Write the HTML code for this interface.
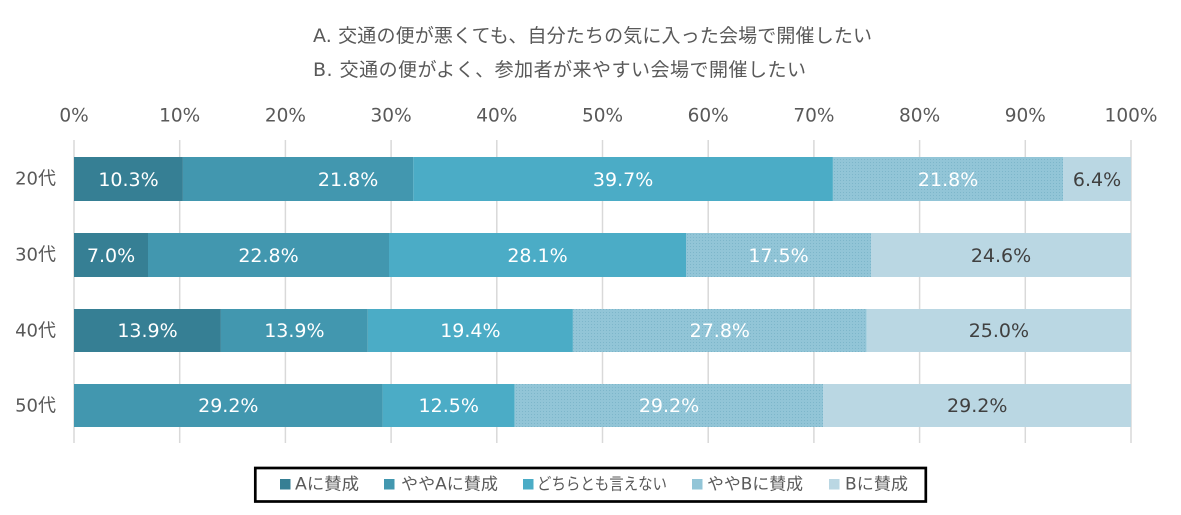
<!DOCTYPE html>
<html><head><meta charset="utf-8"><style>
html,body{margin:0;padding:0;background:#fff;}
svg{display:block;}
text{font-family:"DejaVu Sans","Noto Sans CJK JP",sans-serif;}
</style></head><body>
<svg width="1181" height="515" viewBox="0 0 1181 515" xmlns="http://www.w3.org/2000/svg">
<defs>
<pattern id="dots" width="3" height="3" patternUnits="userSpaceOnUse">
<rect width="3" height="3" fill="#92C5D7"/>
<rect x="0" y="0" width="1" height="1" fill="#7DB6CA"/>
</pattern>
</defs>
<!-- title -->
<text x="313" y="36" font-size="19" fill="#595959" dominant-baseline="central" textLength="559" lengthAdjust="spacing">A. 交通の便が悪くても、自分たちの気に入った会場で開催したい</text>
<text x="313" y="70" font-size="19" fill="#595959" dominant-baseline="central" textLength="493" lengthAdjust="spacing">B. 交通の便がよく、参加者が来やすい会場で開催したい</text>
<!-- tick labels -->
<g font-size="18.5" fill="#595959" text-anchor="middle" dominant-baseline="central">
<text x="74" y="116">0%</text>
<text x="179.7" y="116">10%</text>
<text x="285.4" y="116">20%</text>
<text x="391.1" y="116">30%</text>
<text x="496.8" y="116">40%</text>
<text x="602.5" y="116">50%</text>
<text x="708.2" y="116">60%</text>
<text x="813.9" y="116">70%</text>
<text x="919.6" y="116">80%</text>
<text x="1025.3" y="116">90%</text>
<text x="1131" y="116">100%</text>
</g>
<!-- gridlines -->
<g stroke="#D9D9D9" stroke-width="1.5">
<line x1="74" y1="140" x2="74" y2="443"/>
<line x1="179.7" y1="140" x2="179.7" y2="443"/>
<line x1="285.4" y1="140" x2="285.4" y2="443"/>
<line x1="391.1" y1="140" x2="391.1" y2="443"/>
<line x1="496.8" y1="140" x2="496.8" y2="443"/>
<line x1="602.5" y1="140" x2="602.5" y2="443"/>
<line x1="708.2" y1="140" x2="708.2" y2="443"/>
<line x1="813.9" y1="140" x2="813.9" y2="443"/>
<line x1="919.6" y1="140" x2="919.6" y2="443"/>
<line x1="1025.3" y1="140" x2="1025.3" y2="443"/>
<line x1="1131" y1="140" x2="1131" y2="443"/>
</g>
<!-- category labels -->
<g font-size="18" fill="#595959" text-anchor="end" dominant-baseline="central">
<text x="56" y="179">20代</text>
<text x="56" y="255">30代</text>
<text x="56" y="331">40代</text>
<text x="56" y="406">50代</text>
</g>
<!-- bars -->
<rect x="74" y="157" width="108.9" height="44" fill="#367F94"/>
<rect x="182.9" y="157" width="230.4" height="44" fill="#4297AF"/>
<rect x="413.3" y="157" width="419.6" height="44" fill="#4BACC6"/>
<rect x="832.9" y="157" width="230.4" height="44" fill="url(#dots)"/>
<rect x="1063.3" y="157" width="67.7" height="44" fill="#BAD7E3"/>
<rect x="74" y="233" width="74" height="44" fill="#367F94"/>
<rect x="148" y="233" width="241" height="44" fill="#4297AF"/>
<rect x="389" y="233" width="297" height="44" fill="#4BACC6"/>
<rect x="686" y="233" width="185" height="44" fill="url(#dots)"/>
<rect x="871" y="233" width="260" height="44" fill="#BAD7E3"/>
<rect x="74" y="309" width="146.9" height="43" fill="#367F94"/>
<rect x="220.9" y="309" width="146.9" height="43" fill="#4297AF"/>
<rect x="367.8" y="309" width="205.1" height="43" fill="#4BACC6"/>
<rect x="572.9" y="309" width="293.8" height="43" fill="url(#dots)"/>
<rect x="866.7" y="309" width="264.3" height="43" fill="#BAD7E3"/>
<rect x="74" y="384" width="308.6" height="43" fill="#4297AF"/>
<rect x="382.6" y="384" width="132.1" height="43" fill="#4BACC6"/>
<rect x="514.7" y="384" width="308.6" height="43" fill="url(#dots)"/>
<rect x="823.3" y="384" width="307.7" height="43" fill="#BAD7E3"/>
<!-- bar labels -->
<g font-size="19" text-anchor="middle" dominant-baseline="central" fill="#FFFFFF">
<text x="128.5" y="180">10.3%</text>
<text x="348.1" y="180">21.8%</text>
<text x="623.1" y="180">39.7%</text>
<text x="948.1" y="180">21.8%</text>
<text x="1097" y="180" fill="#404040">6.4%</text>
<text x="111" y="256">7.0%</text>
<text x="268.5" y="256">22.8%</text>
<text x="537.5" y="256">28.1%</text>
<text x="778.5" y="256">17.5%</text>
<text x="1001" y="256" fill="#404040">24.6%</text>
<text x="147.5" y="331">13.9%</text>
<text x="294.4" y="331">13.9%</text>
<text x="470.4" y="331">19.4%</text>
<text x="719.8" y="331">27.8%</text>
<text x="998.9" y="331" fill="#404040">25.0%</text>
<text x="228.3" y="406">29.2%</text>
<text x="448.7" y="406">12.5%</text>
<text x="669" y="406">29.2%</text>
<text x="977.2" y="406" fill="#404040">29.2%</text>
</g>
<!-- legend -->
<rect x="255.3" y="468" width="670.5" height="33.5" fill="#fff" stroke="#000" stroke-width="2.7"/>
<rect x="280" y="479" width="10.5" height="10.5" fill="#367F94"/>
<rect x="384" y="479" width="10.5" height="10.5" fill="#4297AF"/>
<rect x="523" y="479" width="10.5" height="10.5" fill="#4BACC6"/>
<rect x="692" y="479" width="10.5" height="10.5" fill="#92C5D7"/>
<rect x="829" y="479" width="10.5" height="10.5" fill="#BAD7E3"/>
<g font-size="16.5" fill="#595959" dominant-baseline="central">
<text x="295" y="484" textLength="64" lengthAdjust="spacingAndGlyphs">Aに賛成</text>
<text x="401" y="484" textLength="97" lengthAdjust="spacingAndGlyphs">ややAに賛成</text>
<text x="537" y="484" textLength="130" lengthAdjust="spacingAndGlyphs">どちらとも言えない</text>
<text x="707" y="484" textLength="96" lengthAdjust="spacingAndGlyphs">ややBに賛成</text>
<text x="845" y="484" textLength="63" lengthAdjust="spacingAndGlyphs">Bに賛成</text>
</g>
</svg>
</body></html>
